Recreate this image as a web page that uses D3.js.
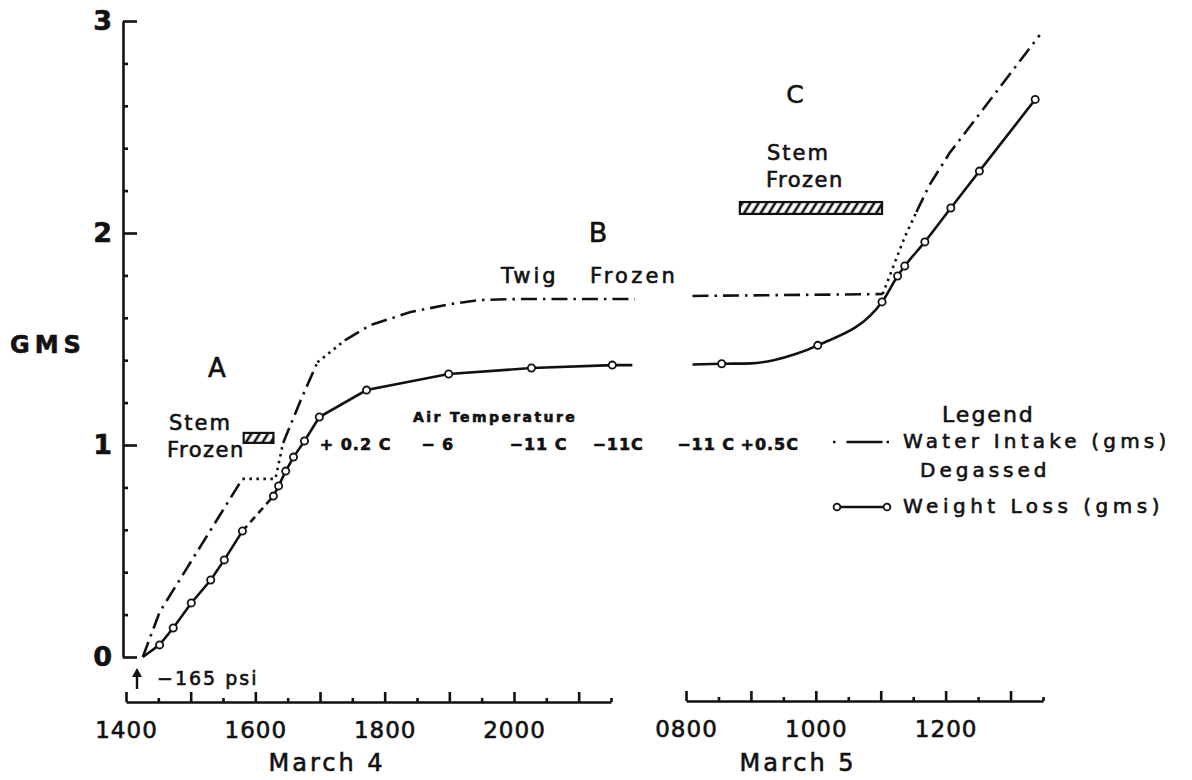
<!DOCTYPE html>
<html lang="en">
  <head>
    <title>Water Intake and Weight Loss</title>
    <meta charset="UTF-8">
    <script src="https://d3js.org/d3.v7.min.js"></script>
    <style>
      * {
        margin: 0;
        padding: 0;
      }
      body {
        background: white;
      }
      svg {
        display: block;
        font-family: 'DejaVu Sans', sans-serif;
        fill: #111;
      }
      .axis path, .axis line {
        stroke: #111;
        stroke-width: 2.6;
      }
      .axis text, .note {
        fill: #111;
        stroke: #111;
        stroke-width: 0.6;
      }
    </style>
  </head>
  <body>
    <script>
      // y axis
      const yMajor = [0, 1, 2, 3]
      const yMinor = [0.2, 0.4, 0.6, 0.8, 1.2, 1.4, 1.6, 1.8, 2.2, 2.4, 2.6, 2.8]

      // time axes (hours of day)
      const m4Hours = [14, 15, 16, 17, 18, 19, 20, 21]
      const m4Half = [14.5, 15.5, 16.5, 17.5, 18.5, 19.5, 20.5, 21.5]
      const m4Labels = [14, 16, 18, 20]
      const m5Hours = [8, 9, 10, 11, 12, 13]
      const m5Half = [8.5, 9.5, 10.5, 11.5, 12.5, 13.5]
      const m5Labels = [8, 10, 12]

      // water intake, March 4 (style is for the segment that starts at the point)
      const wiM4Hours = [14.26, 14.52, 15.80, 16.31, 16.43, 16.70, 16.96, 17.39, 17.78, 18.40, 19.02, 19.48, 20.10, 21.87]
      const wiM4Gms = [0, 0.212, 0.84, 0.84, 1.01, 1.21, 1.39, 1.495, 1.566, 1.627, 1.665, 1.684, 1.689, 1.689]
      const wiM4Style = ['dd', 'dd', 'dot', 'dot', 'dd', 'dd', 'dot', 'dd', 'dd', 'dd', 'dd', 'dd', 'dd']

      // water intake, March 5
      const wiM5Hours = [8.10, 11.03, 11.22, 11.37, 11.55, 11.75, 12.06, 13.45]
      const wiM5Gms = [1.703, 1.712, 1.863, 1.981, 2.099, 2.226, 2.377, 2.934]
      const wiM5Style = ['dd', 'dot', 'dot', 'dot', 'dd', 'dd', 'dd']

      // weight loss, March 4
      const wlM4Hours = [14.26, 14.52, 14.73, 15.01, 15.31, 15.52, 15.80, 16.28, 16.36, 16.47, 16.59, 16.76, 16.99, 17.72, 18.99, 20.27, 21.52, 21.83]
      const wlM4Gms = [0, 0.057, 0.137, 0.255, 0.363, 0.458, 0.594, 0.759, 0.807, 0.877, 0.943, 1.019, 1.132, 1.259, 1.335, 1.363, 1.377, 1.377]
      const wlM4Style = ['solid', 'solid', 'solid', 'solid', 'solid', 'solid', 'dash', 'solid', 'solid', 'solid', 'solid', 'solid', 'solid', 'solid', 'solid', 'solid', 'solid']
      const wlM4Mark = [0, 1, 1, 1, 1, 1, 1, 1, 1, 1, 1, 1, 1, 1, 1, 1, 1, 0]

      // weight loss, March 5
      const wlM5Hours = [8.10, 8.55, 9.00, 9.35, 9.70, 10.03, 11.02, 11.26, 11.37, 11.68, 12.08, 12.52, 13.38]
      const wlM5Gms = [1.38, 1.383, 1.385, 1.40, 1.43, 1.47, 1.675, 1.797, 1.844, 1.958, 2.118, 2.292, 2.63]
      const wlM5Style = ['solid', 'solid', 'solid', 'solid', 'solid', 'solid', 'solid', 'solid', 'solid', 'solid', 'solid', 'solid']
      const wlM5Mark = [0, 1, 0, 0, 0, 1, 1, 1, 1, 1, 1, 1, 1]

      // air temperature notes
      const tempM4Hours = [17.55, 18.82, 20.38, 21.61]
      const tempM4Text = ['+ 0.2 C', '\u2212 6', '\u221211 C', '\u221211C']
      const tempM5Hours = [8.31, 9.29]
      const tempM5Text = ['\u221211 C', '+0.5C']

      // stem frozen bars [start hour, end hour, top gms, bottom gms]
      const frozenA = [15.82, 16.28, 1.057, 1.01]
      const frozenC = [8.83, 11.02, 2.146, 2.09]

      const width = 1192
      const height = 780

      const y = d3.scaleLinear().domain([0, 3]).range([657, 21])
      const x4 = d3.scaleLinear().domain([14, 21.5]).range([126, 611])
      const x5 = d3.scaleLinear().domain([8, 13.5]).range([686, 1043])

      const svg = d3.select('body')
                    .append('svg')
                    .attr('width', width)
                    .attr('height', height)

      const pat = svg.append('defs')
                     .append('pattern')
                     .attr('id', 'hatch')
                     .attr('patternUnits', 'userSpaceOnUse')
                     .attr('width', 7)
                     .attr('height', 7)
                     .attr('patternTransform', 'rotate(32)')
      pat.append('line')
         .attr('x1', 2).attr('y1', 0).attr('x2', 2).attr('y2', 7)
         .attr('stroke', '#111').attr('stroke-width', 2.6)

      // y axis
      svg.append('g')
         .attr('class', 'axis')
         .attr('transform', 'translate(123,0)')
         .call(d3.axisLeft(y).tickValues(yMajor).tickSize(-14).tickSizeOuter(0).tickPadding(11).tickFormat(d3.format('d')))
         .call(g => g.selectAll('text').attr('font-family', 'DejaVu Sans').attr('font-size', 27).attr('font-weight', 'bold').attr('fill', '#111'))
      svg.append('g')
         .attr('class', 'axis')
         .attr('transform', 'translate(123,0)')
         .call(d3.axisLeft(y).tickValues(yMinor).tickSize(-5).tickFormat(''))
         .call(g => g.select('.domain').remove())

      const hourLabel = labels => d => labels.includes(d) ? d3.format('02d')(d) + '00' : ''

      function timeAxis(xs, hours, half, labels, ty) {
        svg.append('g')
           .attr('class', 'axis')
           .attr('transform', `translate(0,${ty})`)
           .call(d3.axisBottom(xs).tickValues(hours).tickSize(-10).tickSizeOuter(0).tickPadding(20).tickFormat(hourLabel(labels)))
           .call(g => g.selectAll('text').attr('font-family', 'DejaVu Sans').attr('font-size', 23).attr('letter-spacing', 1).attr('fill', '#111'))
        svg.append('g')
           .attr('class', 'axis')
           .attr('transform', `translate(0,${ty})`)
           .call(d3.axisBottom(xs).tickValues(half).tickSize(-4).tickFormat(''))
           .call(g => g.select('.domain').remove())
      }
      timeAxis(x4, m4Hours, m4Half, m4Labels, 702)
      timeAxis(x5, m5Hours, m5Half, m5Labels, 701)

      const dashes = { solid: null, dash: '7,5', dd: '16,6,2.5,6', dot: '2.5,4.5' }

      function runs(hours, vals, styles) {
        const out = []
        let cur = null
        for (let i = 0; i < hours.length - 1; i++) {
          if (!cur || cur.style !== styles[i]) {
            cur = { style: styles[i], pts: [[hours[i], vals[i]]] }
            out.push(cur)
          }
          cur.pts.push([hours[i + 1], vals[i + 1]])
        }
        return out
      }

      function drawSeries(xs, hours, vals, styles, curve) {
        const line = d3.line().x(d => xs(d[0])).y(d => y(d[1])).curve(curve)
        svg.append('g')
           .selectAll('path')
           .data(runs(hours, vals, styles))
           .enter()
           .append('path')
           .attr('d', d => line(d.pts))
           .attr('fill', 'none')
           .attr('stroke', '#111')
           .attr('stroke-width', 2.6)
           .attr('stroke-dasharray', d => dashes[d.style])
      }

      function drawMarks(xs, hours, vals, marks) {
        svg.append('g')
           .selectAll('circle')
           .data(hours.map((h, i) => [h, vals[i], marks[i]]).filter(d => d[2]))
           .enter()
           .append('circle')
           .attr('cx', d => xs(d[0]))
           .attr('cy', d => y(d[1]))
           .attr('r', 3.6)
           .attr('fill', 'white')
           .attr('stroke', '#111')
           .attr('stroke-width', 1.8)
      }

      drawSeries(x4, wiM4Hours, wiM4Gms, wiM4Style, d3.curveLinear)
      drawSeries(x5, wiM5Hours, wiM5Gms, wiM5Style, d3.curveLinear)
      drawSeries(x4, wlM4Hours, wlM4Gms, wlM4Style, d3.curveLinear)
      drawSeries(x5, wlM5Hours, wlM5Gms, wlM5Style, d3.curveMonotoneX)
      drawMarks(x4, wlM4Hours, wlM4Gms, wlM4Mark)
      drawMarks(x5, wlM5Hours, wlM5Gms, wlM5Mark)

      // stem frozen bars
      ;[[x4, frozenA], [x5, frozenC]].forEach(([xs, b]) => {
        svg.append('rect')
           .attr('x', xs(b[0]))
           .attr('y', y(b[2]))
           .attr('width', xs(b[1]) - xs(b[0]))
           .attr('height', y(b[3]) - y(b[2]))
           .attr('fill', 'url(#hatch)')
           .attr('stroke', '#111')
           .attr('stroke-width', 2.2)
      })

      function note(str, x, yy, size, opts = {}) {
        return svg.append('text')
                  .attr('class', 'note')
                  .attr('x', x)
                  .attr('y', yy)
                  .attr('font-size', size)
                  .attr('text-anchor', opts.anchor || 'start')
                  .attr('font-weight', opts.weight || 'normal')
                  .attr('letter-spacing', opts.ls || 0)
                  .text(str)
      }

      // air temperature
      note('Air Temperature', 413, 422, 14, { weight: 'bold', ls: 2.4 })
      tempM4Text.forEach((t, i) => note(t, x4(tempM4Hours[i]), 450, 16, { anchor: 'middle', weight: 'bold', ls: 1 }))
      tempM5Text.forEach((t, i) => note(t, x5(tempM5Hours[i]), 450, 16, { anchor: 'middle', weight: 'bold', ls: 1 }))

      // labels
      note('GMS', 10, 353, 24, { weight: 'bold', ls: 5 })
      note('A', 217, 377, 26, { anchor: 'middle' })
      note('B', 598, 242, 27, { anchor: 'middle' })
      note('C', 795, 103, 25, { anchor: 'middle' })
      note('Stem', 169, 430, 21, { ls: 2 })
      note('Frozen', 167, 457, 21, { ls: 1.5 })
      note('Stem', 767, 160, 21, { ls: 2 })
      note('Frozen', 766, 187, 21, { ls: 1.5 })
      note('Twig', 501, 283, 21, { ls: 3 })
      note('Frozen', 590, 283, 21, { ls: 3.2 })
      note('\u2212165 psi', 157, 685, 19, { ls: 2 })
      note('March 4', 327, 771, 24, { anchor: 'middle', ls: 3 })
      note('March 5', 798, 771, 24, { anchor: 'middle', ls: 3 })

      // arrow at the start
      svg.append('path').attr('d', 'M137,689V674').attr('stroke', '#111').attr('stroke-width', 2.4)
      svg.append('path').attr('d', 'M132,677L137,668L142,677Z').attr('fill', '#111')

      // legend
      note('Legend', 942, 422, 22, { ls: 2 })
      note('Water Intake (gms)', 903, 448, 20, { ls: 4.2 })
      note('Degassed', 920, 477, 20, { ls: 4 })
      note('Weight Loss (gms)', 903, 513, 20, { ls: 4.5 })
      svg.append('path')
         .attr('d', 'M833,442H889')
         .attr('stroke', '#111')
         .attr('stroke-width', 2.6)
         .attr('stroke-dasharray', '2.5,11,36,4,2.5')
      svg.append('path')
         .attr('d', 'M837,507H887')
         .attr('stroke', '#111')
         .attr('stroke-width', 2.6)
      ;[837, 887].forEach(cx => {
        svg.append('circle')
           .attr('cx', cx).attr('cy', 507).attr('r', 3.4)
           .attr('fill', 'white').attr('stroke', '#111').attr('stroke-width', 1.8)
      })
    </script>
  </body>
</html>
